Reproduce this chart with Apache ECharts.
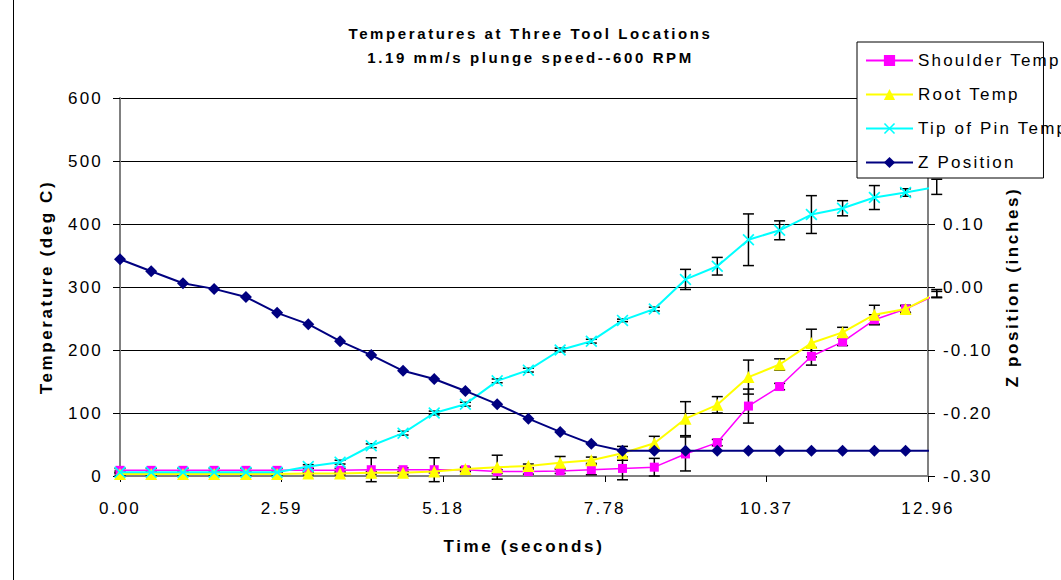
<!DOCTYPE html>
<html>
<head>
<meta charset="utf-8">
<script src="https://cdn.jsdelivr.net/npm/echarts@6/dist/echarts.min.js"></script>
<style>
html,body{margin:0;padding:0;background:#fff;}
#chart{width:1061px;height:580px;}
#chart text{letter-spacing:2.2px;}
#chart text[style*="bold"]{letter-spacing:2.6px;}
</style>
</head>
<body>
<div id="chart"></div>
<script>
// ---- data ----
const timeSec      = [0.00,0.50,1.01,1.51,2.02,2.52,3.02,3.53,4.03,4.54,5.04,5.54,6.05,6.55,7.06,7.56,8.06,8.57,9.07,9.58,10.08,10.58,11.09,11.59,12.10,12.60,13.10];
const shoulderTemp = [9,9,9,9,9,9,9,9,10,10,10,10,7,7,8,10,12,14,35,53,111,142,190,213,248,265,288];
const rootTemp     = [3,3,3,3,3,3,4,4,5,5,7,11,14,16,21,25,36,52,91,113,157,177,211,228,256,265,290];
const tipTemp      = [6,6,6,6,6,6,15,22,48,68,100,114,151,168,200,214,247,265,312,333,375,390,415,425,442,450,459];
const zPosition    = [0.044,0.025,0.006,-0.003,-0.016,-0.041,-0.059,-0.086,-0.108,-0.133,-0.146,-0.165,-0.186,-0.209,-0.230,-0.249,-0.260,-0.260,-0.260,-0.260,-0.260,-0.260,-0.260,-0.260,-0.260,-0.260,-0.260];
const shoulderErr  = [3,3,3,3,3,3,3,3,19,3,19,3,3,4,4,8,18,14,27,5,27,5,14,6,8,5,5];
const rootErr      = [2,2,2,2,2,2,2,2,2,2,2,3,19,3,10,5,11,11,27,13,27,9,22,8,15,6,6];
const tipErr       = [2,2,2,2,2,2,3,3,3,3,3,3,3,3,3,3,2,3,16,14,41,15,30,12,19,6,12];
const xTickLabels  = ['0.00','2.59','5.18','7.78','10.37','12.96'];
// right-axis labels visible in the reference (0.20 and 0.30 sit under the legend box)
const zTickLabels  = ['-0.30','-0.20','-0.10','0.00','0.10','',''];
const seriesNames  = ['Shoulder Temp','Root Temp','Tip of Pin Temp','Z Position'];
const titleLines   = ['Temperatures at Three Tool Locations','1.19 mm/s plunge speed--600 RPM'];

const FONT = 'Liberation Sans, Arial, sans-serif';
const X_PATH = 'path://M0,1L1,0L5,4L9,0L10,1L6,5L10,9L9,10L5,6L1,10L0,9L4,5Z';

function pairs(vals){ return timeSec.map((t,i)=>[t, vals[i]]); }

function errSeries(name, vals, errs){
  return {
    type:'custom', name: name + ' error', yAxisIndex:0, z:1, silent:true,
    data: timeSec.map((t,i)=>[t, vals[i], errs[i]]),
    encode:{x:0, y:1},
    renderItem:function(params, api){
      const x = api.value(0), y = api.value(1), e = api.value(2);
      const top = api.coord([x, y + e]), bot = api.coord([x, y - e]);
      const hw = 5.5, st = {stroke:'#000', lineWidth:1.5};
      return {type:'group', children:[
        {type:'line', shape:{x1:top[0], y1:top[1], x2:bot[0], y2:bot[1]}, style:st},
        {type:'line', shape:{x1:top[0]-hw, y1:top[1], x2:top[0]+hw, y2:top[1]}, style:st},
        {type:'line', shape:{x1:bot[0]-hw, y1:bot[1], x2:bot[0]+hw, y2:bot[1]}, style:st}
      ]};
    }
  };
}

const chart = echarts.init(document.getElementById('chart'), null, {renderer:'svg'});
chart.setOption({
  backgroundColor:'#fff',
  animation:false,
  textStyle:{fontFamily:FONT},
  title:{
    text: titleLines.join('\n'),
    left:'center', top:21, padding:[0,0,0,16],
    textStyle:{fontSize:15, fontWeight:'bold', lineHeight:24, color:'#000', fontFamily:FONT}
  },
  legend:{
    data: seriesNames,
    orient:'vertical', left:857, top:42,
    backgroundColor:'#fff', borderColor:'#000', borderWidth:1, borderRadius:0,
    padding:[10,8,7,8], itemGap:17, itemWidth:47, itemHeight:14,
    textStyle:{fontSize:17, color:'#000', fontFamily:FONT},
    z:10
  },
  graphic:[
    {type:'line', shape:{x1:13.5, y1:0, x2:13.5, y2:580}, style:{stroke:'#000', lineWidth:1}}
  ],
  grid:{left:120, right:133, top:98, bottom:104},
  xAxis:{
    type:'value', min:0, max:12.96, interval:2.592,
    name:'Time (seconds)', nameLocation:'middle', nameGap:62,
    nameTextStyle:{fontSize:17, fontWeight:'bold', color:'#000', fontFamily:FONT},
    axisLine:{onZero:false, lineStyle:{color:'#808080', width:2}},
    axisTick:{show:true, inside:false, length:6, lineStyle:{color:'#000'}},
    axisLabel:{margin:24, fontSize:17, color:'#000', fontFamily:FONT, showMaxLabel:true, showMinLabel:true,
      formatter:function(v){ return xTickLabels[Math.round(v/2.592)]; }},
    splitLine:{show:false}
  },
  yAxis:[
    {
      type:'value', min:0, max:600, interval:100, position:'left',
      name:'Temperature (deg C)', nameLocation:'middle', nameGap:65,
      nameTextStyle:{fontSize:17, fontWeight:'bold', color:'#000', fontFamily:FONT},
      axisLine:{show:true, lineStyle:{color:'#808080', width:2}},
      axisTick:{show:true, inside:false, length:7, lineStyle:{color:'#000'}},
      axisLabel:{margin:17, fontSize:17, color:'#000', fontFamily:FONT},
      splitLine:{show:true, lineStyle:{color:'#000', width:1}}
    },
    {
      type:'value', min:-0.3, max:0.3, interval:0.1, position:'right',
      name:'Z position (inches)', nameLocation:'middle', nameGap:76,
      nameTextStyle:{fontSize:17, fontWeight:'bold', color:'#000', fontFamily:FONT},
      axisLine:{show:true, lineStyle:{color:'#808080', width:2}},
      axisTick:{show:true, inside:false, length:7, lineStyle:{color:'#000'}},
      axisLabel:{margin:15, fontSize:17, color:'#000', fontFamily:FONT,
        formatter:function(v){ return zTickLabels[Math.round((v + 0.3) / 0.1)] || ''; }},
      splitLine:{show:false}
    }
  ],
  series:[
    errSeries('Shoulder Temp', shoulderTemp, shoulderErr),
    errSeries('Root Temp', rootTemp, rootErr),
    errSeries('Tip of Pin Temp', tipTemp, tipErr),
    {
      name:seriesNames[0], type:'line', yAxisIndex:0, z:3,
      data:pairs(shoulderTemp), symbol:'rect', symbolSize:9, showAllSymbol:true,
      lineStyle:{color:'#FF00FF', width:1.5}, itemStyle:{color:'#FF00FF'}
    },
    {
      name:seriesNames[1], type:'line', yAxisIndex:0, z:4,
      data:pairs(rootTemp), symbol:'triangle', symbolSize:12, showAllSymbol:true,
      lineStyle:{color:'#FFFF00', width:2}, itemStyle:{color:'#FFFF00'}
    },
    {
      name:seriesNames[2], type:'line', yAxisIndex:0, z:5,
      data:pairs(tipTemp), symbol:X_PATH, symbolSize:12, showAllSymbol:true,
      lineStyle:{color:'#00FFFF', width:2}, itemStyle:{color:'#00FFFF'}
    },
    {
      name:seriesNames[3], type:'line', yAxisIndex:1, z:6,
      data:pairs(zPosition), symbol:'diamond', symbolSize:12, showAllSymbol:true,
      lineStyle:{color:'#000080', width:2}, itemStyle:{color:'#000080'}
    }
  ]
});
</script>
</body>
</html>
